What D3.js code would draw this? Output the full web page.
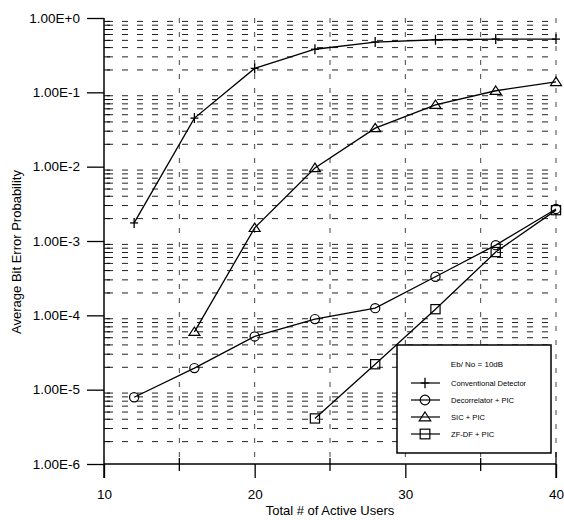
<!DOCTYPE html>
<html><head><meta charset="utf-8">
<script src="https://cdn.jsdelivr.net/npm/d3@7"></script>
<style>
html,body{margin:0;padding:0;background:#fff;}
svg text{font-family:"Liberation Sans",Arial,sans-serif;fill:#000;}
</style></head>
<body><svg id="c" width="564" height="520"></svg>
<script>
const users = [12, 16, 20, 24, 28, 32, 36, 40];
const conventional = [1.75e-3, 4.5e-2, 0.21, 0.38, 0.475, 0.51, 0.52, 0.52];
const decorrelatorPIC = [7.9e-6, 1.95e-5, 5.2e-5, 8.9e-5, 1.25e-4, 3.3e-4, 8.8e-4, 2.7e-3];
const sicPIC = [null, 6.0e-5, 1.5e-3, 9.6e-3, 3.3e-2, 6.8e-2, 0.105, 0.138];
const zfdfPIC = [null, null, null, 4.1e-6, 2.2e-5, 1.21e-4, 7.1e-4, 2.6e-3];
const seriesNames = ["Conventional Detector", "Decorrelator + PIC", "SIC + PIC", "ZF-DF + PIC"];
const markerTypes = ["plus", "circle", "triangle", "square"];
const yTickLabels = ["1.00E+0", "1.00E-1", "1.00E-2", "1.00E-3", "1.00E-4", "1.00E-5", "1.00E-6"];
const yTickValues = [1, 1e-1, 1e-2, 1e-3, 1e-4, 1e-5, 1e-6];
const xTickValues = [10, 20, 30, 40];
const xMinorTicks = [15, 25, 35];
const xGrid = [15, 20, 25, 30, 35, 40];
const legendTitle = "Eb/ No = 10dB";
const xTitle = "Total # of Active Users";
const yTitle = "Average Bit Error Probability";

const svg = d3.select("#c");
const L = 104, R = 556, T = 18, B = 464;
const x = d3.scaleLinear().domain([10, 40]).range([L, R]);
const y = d3.scaleLog().domain([1e-6, 1]).range([B, T]);

// horizontal dashed grid at minor log values
const minorVals = [];
for (let e = -6; e < 0; e++) for (let m = 2; m <= 9; m++) minorVals.push(m * Math.pow(10, e));
svg.append("g").selectAll("line").data(minorVals).join("line")
  .attr("x1", L + 3).attr("x2", R).attr("y1", d => y(d)).attr("y2", d => y(d))
  .attr("stroke", "#222").attr("stroke-width", 1).attr("stroke-dasharray", "6,9");
// vertical dashed grid
svg.append("g").selectAll("line").data(xGrid).join("line")
  .attr("x1", d => x(d)).attr("x2", d => x(d)).attr("y1", T).attr("y2", B)
  .attr("stroke", "#444").attr("stroke-width", 1).attr("stroke-dasharray", "5,9");

// y axis
const yAxis = d3.axisLeft(y).tickValues(yTickValues).tickFormat((d, i) => yTickLabels[i]).tickSize(17).tickPadding(7);
const gy = svg.append("g").attr("transform", `translate(${L},0)`).call(yAxis);
gy.select(".domain").remove();
gy.selectAll("text").attr("font-size", "13.5px").attr("fill", "#000");
gy.selectAll("line").attr("stroke", "#000").attr("stroke-width", 1.3);
svg.append("line").attr("x1", L).attr("x2", L).attr("y1", T).attr("y2", B + 14).attr("stroke", "#000").attr("stroke-width", 1.5);
// minor inner y ticks
svg.append("g").selectAll("line").data(minorVals).join("line")
  .attr("x1", L).attr("x2", L + 6).attr("y1", d => y(d)).attr("y2", d => y(d))
  .attr("stroke", "#000").attr("stroke-width", 1);

// x axis
const xAxis = d3.axisBottom(x).tickValues(xTickValues).tickFormat(d3.format("d")).tickSize(14).tickPadding(11);
const gx = svg.append("g").attr("transform", `translate(0,${B})`).call(xAxis);
gx.select(".domain").remove();
gx.selectAll("text").attr("font-size", "13.5px").attr("fill", "#000");
gx.selectAll("line").attr("stroke", "#000").attr("stroke-width", 1.3);
svg.append("line").attr("x1", L).attr("x2", R).attr("y1", B).attr("y2", B).attr("stroke", "#000").attr("stroke-width", 1.5);
svg.append("g").selectAll("line").data(xMinorTicks).join("line")
  .attr("x1", d => x(d)).attr("x2", d => x(d)).attr("y1", B - 6).attr("y2", B + 7)
  .attr("stroke", "#000").attr("stroke-width", 1.3);
svg.append("line").attr("x1", R).attr("x2", R).attr("y1", B - 12).attr("y2", B + 14).attr("stroke", "#000").attr("stroke-width", 1.3);

// titles
svg.append("text").attr("x", (L + R) / 2).attr("y", 515).attr("text-anchor", "middle")
  .attr("font-size", "13px").text(xTitle);
svg.append("text").attr("transform", "translate(21,252) rotate(-90)").attr("text-anchor", "middle")
  .attr("font-size", "13px").text(yTitle);

// markers
function drawMarker(g, type, cx, cy, s) {
  s = s || 1;
  if (type === "plus") {
    g.append("line").attr("x1", cx).attr("x2", cx).attr("y1", cy - 5 * s).attr("y2", cy + 5 * s).attr("stroke", "#000").attr("stroke-width", 1.3);
    g.append("line").attr("x1", cx - 4 * s).attr("x2", cx + 4 * s).attr("y1", cy).attr("y2", cy).attr("stroke", "#000").attr("stroke-width", 1.3);
  } else if (type === "circle") {
    g.append("circle").attr("cx", cx).attr("cy", cy).attr("r", 4.6 * s).attr("fill", "none").attr("stroke", "#000").attr("stroke-width", 1.2);
  } else if (type === "triangle") {
    const h = 8 * s, w = 5.5 * s;
    g.append("path").attr("d", `M${cx},${cy - h * 0.6}L${cx + w},${cy + h * 0.45}L${cx - w},${cy + h * 0.45}Z`)
      .attr("fill", "none").attr("stroke", "#000").attr("stroke-width", 1.2);
  } else if (type === "square") {
    const a = 4.6 * s;
    g.append("rect").attr("x", cx - a).attr("y", cy - a).attr("width", 2 * a).attr("height", 2 * a)
      .attr("fill", "none").attr("stroke", "#000").attr("stroke-width", 1.2);
  }
}

const allSeries = [conventional, decorrelatorPIC, sicPIC, zfdfPIC];
const line = d3.line().defined(d => d[1] != null).x(d => x(d[0])).y(d => y(d[1]));
allSeries.forEach((vals, i) => {
  const pts = users.map((u, j) => [u, vals[j]]).filter(d => d[1] != null);
  const g = svg.append("g");
  g.append("path").attr("d", line(pts)).attr("fill", "none").attr("stroke", "#000").attr("stroke-width", 1.3);
  pts.forEach(p => drawMarker(g, markerTypes[i], x(p[0]), y(p[1])));
});

// legend
const lg = svg.append("g");
lg.append("rect").attr("x", 397).attr("y", 345).attr("width", 154).attr("height", 108)
  .attr("fill", "#fff").attr("stroke", "#000").attr("stroke-width", 1.5);
lg.append("text").attr("x", 477).attr("y", 367).attr("text-anchor", "middle").attr("font-size", "8px").text(legendTitle);
seriesNames.forEach((nm, i) => {
  const yy = 383 + i * 17;
  lg.append("line").attr("x1", 411).attr("x2", 440).attr("y1", yy).attr("y2", yy).attr("stroke", "#000").attr("stroke-width", 1.2);
  drawMarker(lg, markerTypes[i], 425, yy, 1.05);
  lg.append("text").attr("x", 451).attr("y", yy + 3).attr("font-size", "7.6px").text(nm);
});
</script></body></html>
